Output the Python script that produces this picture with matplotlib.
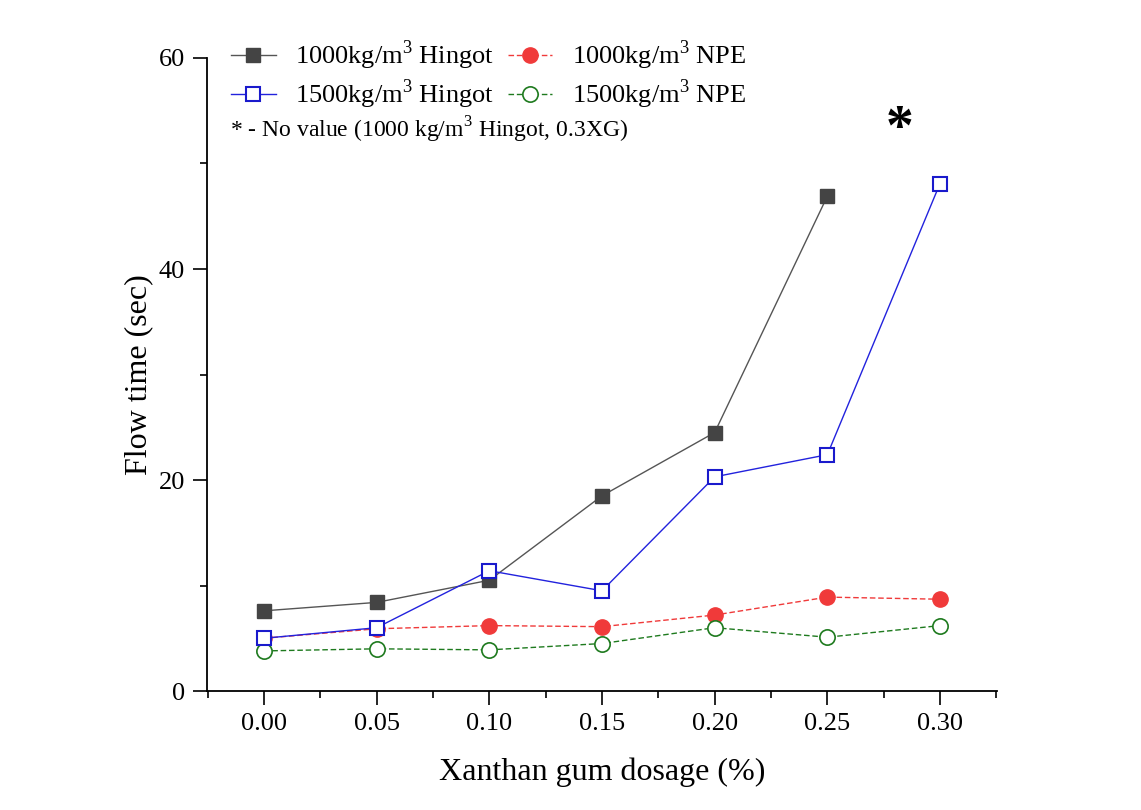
import matplotlib
matplotlib.use("Agg")
import matplotlib.pyplot as plt
from matplotlib.ticker import MultipleLocator

# Xanthan gum dosage (%)
dosage = [0.00, 0.05, 0.10, 0.15, 0.20, 0.25, 0.30]

# Flow time (sec) per mix
hingot_1000 = [7.6, 8.4, 10.5, 18.5, 24.5, 46.9]          # no value at 0.30
hingot_1500 = [5.0, 6.0, 11.4, 9.5, 20.3, 22.4, 48.1]
npe_1000 = [5.0, 5.9, 6.2, 6.1, 7.2, 8.9, 8.7]
npe_1500 = [3.8, 4.0, 3.9, 4.5, 6.0, 5.1, 6.2]

labels = ["1000kg/m$^3$ Hingot", "1500kg/m$^3$ Hingot",
          "1000kg/m$^3$ NPE", "1500kg/m$^3$ NPE"]
note = "* - No value (1000 kg/m$^3$ Hingot, 0.3XG)"
xticks = [0.00, 0.05, 0.10, 0.15, 0.20, 0.25, 0.30]
yticks = [0, 20, 40, 60]

plt.rcParams["font.family"] = ["Liberation Serif", "DejaVu Serif"]
plt.rcParams["mathtext.fontset"] = "custom"
plt.rcParams["mathtext.rm"] = "Liberation Serif"

fig = plt.figure(figsize=(11.41, 8.10), dpi=100)
ax = fig.add_axes([0.1814, 0.1469, 0.6924, 0.7815])

h1, = ax.plot(dosage[:len(hingot_1000)], hingot_1000, color="#555555", lw=1.0,
              marker="s", ms=10, mfc="#444444", mec="#444444", zorder=3)
h2, = ax.plot(dosage, hingot_1500, color="#2222dd", lw=1.0,
              marker="s", ms=10, mfc="white", mec="#1a1acc", mew=1.5, zorder=4)
h3, = ax.plot(dosage, npe_1000, color="#f03a3a", lw=1.0, ls=(0, (4, 2)),
              marker="o", ms=11, mfc="#f03a3a", mec="#f03a3a", zorder=2)
h4, = ax.plot(dosage, npe_1500, color="#1e7a1e", lw=1.0, ls=(0, (4, 2)),
              marker="o", ms=11, mfc="white", mec="#1e7a1e", mew=1.2, zorder=2)

ax.set_xlim(-0.0253, 0.3253)
ax.set_ylim(0, 60)
ax.set_xticks(xticks)
ax.set_xticklabels([f"{v:.2f}" for v in xticks])
ax.set_yticks(yticks)
ax.xaxis.set_minor_locator(MultipleLocator(0.025))
ax.yaxis.set_minor_locator(MultipleLocator(10))
ax.tick_params(axis="both", which="major", direction="out", length=10,
               width=1.2, labelsize=19, pad=6)
ax.tick_params(axis="both", which="minor", direction="out", length=5, width=1.2)
ax.spines["top"].set_visible(False)
ax.spines["right"].set_visible(False)
ax.spines["left"].set_linewidth(1.3)
ax.spines["bottom"].set_linewidth(1.3)

ax.set_xlabel("Xanthan gum dosage (%)", fontsize=23, labelpad=16)
ax.set_ylabel("Flow time (sec)", fontsize=23, labelpad=4)

leg = ax.legend([h1, h2, h3, h4], labels, ncol=2, loc="upper left",
                bbox_to_anchor=(0.0, 1.068), frameon=False, fontsize=19,
                handlelength=1.7, columnspacing=0.5, handletextpad=0.75,
                labelspacing=0.2)
ax.text(0.029, 0.886, note, transform=ax.transAxes, fontsize=17,
        ha="left", va="center")

ax.text(0.282, 53.2, "*", fontsize=40, fontweight="bold",
        ha="center", va="center")

fig.savefig("out.png", dpi=100, facecolor="white")
